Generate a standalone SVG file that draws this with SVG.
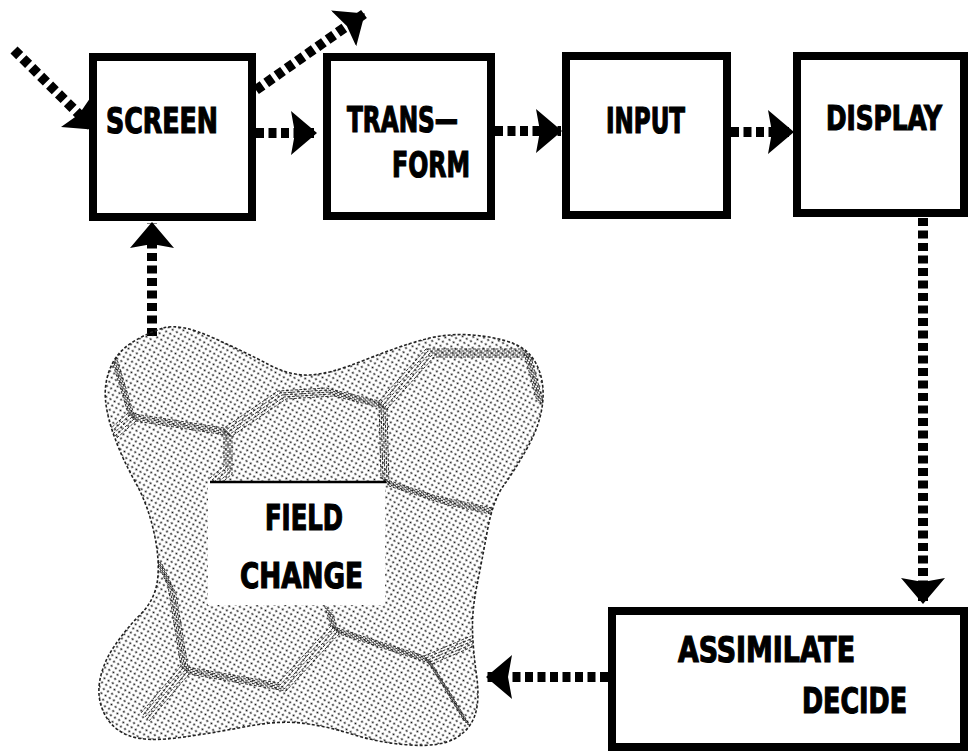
<svg xmlns="http://www.w3.org/2000/svg" width="969" height="752" viewBox="0 0 969 752">
<defs>
<style>
.box{fill:#fff;stroke:#000;stroke-width:8}
.lbl{font-family:"Liberation Sans Narrow","DejaVu Sans Condensed","DejaVu Sans",sans-serif;font-weight:bold;font-size:36px;fill:#000;stroke:#000;stroke-width:1.2}
.dot{fill:none;stroke:#000;stroke-width:10;stroke-dasharray:8 4.5}
.facet{fill:none;stroke:#111;stroke-width:1;stroke-dasharray:3 1.5;stroke-linejoin:round;opacity:0.85}
</style>
<marker id="head" markerUnits="userSpaceOnUse" markerWidth="26" markerHeight="44" viewBox="0 0 26 44" refX="25" refY="22" orient="auto">
<path d="M0,0 L26,22 L0,44 L4,22 Z" fill="#000"/>
</marker>
<pattern id="halftone" patternUnits="userSpaceOnUse" width="4.8" height="4.8" patternTransform="rotate(30)">
<circle cx="2.4" cy="2.4" r="1.05" fill="#111"/>
</pattern>
<clipPath id="blobclip">
<path id="blobshape" d="M163.5,328 Q180,323 213.5,338 Q247,353 268.5,364.5 Q290,376 310,375 Q330,374 363.5,360.5 Q397,347 422,340 Q447,333 472,335 Q497,337 513.5,343.5 Q530,350 537.5,366.5 Q545,383 542.5,404 Q540,425 527.5,447.5 Q515,470 504,485 Q493,500 487.5,530 Q482,560 477,585 Q472,610 472.5,630 Q473,650 476.5,675 Q480,700 475,715 Q470,730 455,738.5 Q440,747 410,745 Q380,743 355,735 Q330,727 305,723.5 Q280,720 246.5,726.5 Q213,733 180,737.5 Q147,742 130,736 Q113,730 105,715 Q97,700 99.5,682.5 Q102,665 113.5,647.5 Q125,630 140,615 Q155,600 157.5,580 Q160,560 154,532.5 Q148,505 135.5,482.5 Q123,460 115,438.5 Q107,417 105.5,400 Q104,383 110.5,367.5 Q117,352 132,342.5 Q147,333 163.5,328 Z"/>
</clipPath>
<g id="facets">
<polyline points="112,352 132,417 228,432 282,395 330,392 383,405"/>
<polyline points="228,432 228,470 214,482"/>
<polyline points="383,405 430,353 527,353 541,405"/>
<polyline points="383,405 385,482 440,500 496,512"/>
<polyline points="132,417 106,440"/>
<polyline points="158,560 172,590 185,670 282,687 335,630 428,660 447,690 468,725"/>
<polyline points="185,670 145,717"/>
<polyline points="335,630 328,608"/>
<polyline points="428,660 475,640"/>
</g>
</defs>
<rect width="969" height="752" fill="#fff"/>

<g id="connectors">
<line class="dot" x1="14" y1="50" x2="94" y2="129" marker-end="url(#head)"/>
<line class="dot" x1="256" y1="90" x2="364" y2="14" marker-end="url(#head)"/>
<line class="dot" x1="256" y1="133" x2="316" y2="133" marker-end="url(#head)"/>
<line class="dot" x1="495" y1="131" x2="561" y2="131" marker-end="url(#head)"/>
<line class="dot" x1="731" y1="132" x2="793" y2="132" marker-end="url(#head)"/>
<line class="dot" x1="152" y1="336" x2="152" y2="223" marker-end="url(#head)"/>
<line class="dot" x1="923" y1="218" x2="923" y2="603" marker-end="url(#head)"/>
<line class="dot" x1="608" y1="677" x2="487" y2="677" marker-end="url(#head)"/>
</g>

<g id="field-change">
<use href="#blobshape" fill="url(#halftone)" stroke="#222" stroke-width="1.6" stroke-dasharray="3 2"/>
<g clip-path="url(#blobclip)" class="facet">
<use href="#facets" transform="translate(-4,-4)"/>
<use href="#facets" transform="translate(-2,-2)"/>
<use href="#facets"/>
<use href="#facets" transform="translate(2,2)"/>
<use href="#facets" transform="translate(4,4)"/>
</g>
<rect x="208" y="482" width="177" height="123" fill="#fff"/>
<line x1="210" y1="482" x2="386" y2="482" stroke="#000" stroke-width="2.5"/>
<text class="lbl" x="265" y="530" textLength="78" lengthAdjust="spacingAndGlyphs">FIELD</text>
<text class="lbl" x="240" y="588" textLength="123" lengthAdjust="spacingAndGlyphs">CHANGE</text>
</g>

<g id="screen">
<rect class="box" x="93" y="57" width="159" height="160"/>
<text class="lbl" x="106" y="133" textLength="112" lengthAdjust="spacingAndGlyphs">SCREEN</text>
</g>
<g id="transform">
<rect class="box" x="327" y="57" width="164" height="159"/>
<text class="lbl" x="347" y="132" textLength="111" lengthAdjust="spacingAndGlyphs">TRANS—</text>
<text class="lbl" x="392" y="177" textLength="78" lengthAdjust="spacingAndGlyphs">FORM</text>
</g>
<g id="input">
<rect class="box" x="566" y="56" width="161" height="159"/>
<text class="lbl" x="606" y="133" textLength="79" lengthAdjust="spacingAndGlyphs">INPUT</text>
</g>
<g id="display">
<rect class="box" x="797" y="56" width="167" height="157"/>
<text class="lbl" x="826" y="130" style="font-size:34px" textLength="116" lengthAdjust="spacingAndGlyphs">DISPLAY</text>
</g>
<g id="assimilate-decide">
<rect class="box" x="612" y="611" width="352" height="136"/>
<text class="lbl" x="678" y="662" textLength="177" lengthAdjust="spacingAndGlyphs">ASSIMILATE</text>
<text class="lbl" x="802" y="713" textLength="105" lengthAdjust="spacingAndGlyphs">DECIDE</text>
</g>
</svg>
